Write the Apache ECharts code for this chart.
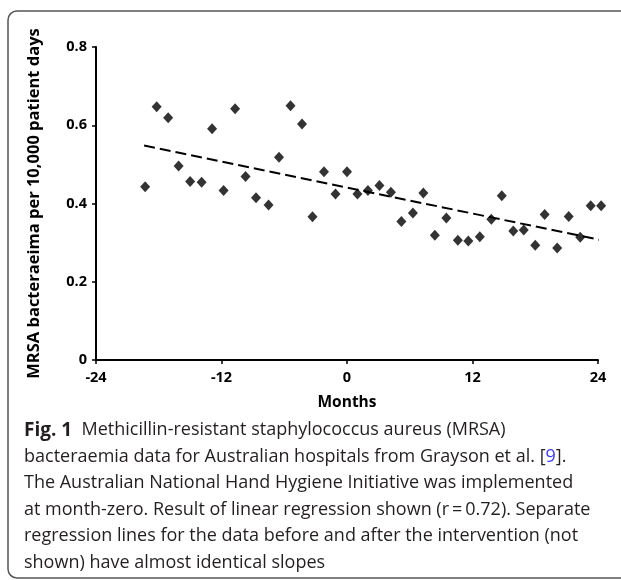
<!DOCTYPE html>
<html>
<head>
<meta charset="utf-8">
<script src="https://cdn.jsdelivr.net/npm/echarts@6/dist/echarts.min.js"></script>
<style>
  html, body { margin: 0; padding: 0; background: #fff; }
  #main { width: 621px; height: 580px; }
</style>
</head>
<body>
<div id="main"></div>
<script>
// months relative to the start of the hand hygiene initiative
var months = [-19.3, -18.2, -17.1, -16.1, -15, -13.9, -12.9, -11.8, -10.7, -9.7,
              -8.7, -7.5, -6.5, -5.4, -4.3, -3.3, -2.2, -1.1, 0, 1,
              2, 3.1, 4.2, 5.2, 6.3, 7.3, 8.4, 9.5, 10.6, 11.6,
              12.7, 13.8, 14.8, 15.9, 16.9, 18, 18.9, 20.1, 21.2, 22.3,
              23.3, 24.3];
// MRSA bacteraemia per 10,000 patient days
var rates = [0.443, 0.647, 0.619, 0.496, 0.456, 0.454, 0.591, 0.433, 0.642, 0.469,
             0.415, 0.396, 0.518, 0.650, 0.603, 0.366, 0.481, 0.424, 0.481, 0.424,
             0.433, 0.446, 0.429, 0.354, 0.376, 0.427, 0.319, 0.363, 0.306, 0.304,
             0.315, 0.360, 0.420, 0.330, 0.332, 0.293, 0.372, 0.286, 0.367, 0.314,
             0.394, 0.394];
// regression line ends
var fitMonths = [-19.4, 24.2];
var fitRates = [0.548, 0.307];

var xTicks = [-24, -12, 0, 12, 24];
var yTicks = [0, 0.2, 0.4, 0.6, 0.8];

var captionLines = [
  '{b|Fig. 1}  Methicillin-resistant staphylococcus aureus (MRSA)',
  'bacteraemia data for Australian hospitals from Grayson et al. [{blue|9}].',
  'The Australian National Hand Hygiene Initiative was implemented',
  'at month-zero. Result of linear regression shown (r\u2009=\u20090.72). Separate',
  'regression lines for the data before and after the intervention (not',
  'shown) have almost identical slopes'
];

var font = '"Open Sans", "Noto Sans", sans-serif';

var chart = echarts.init(document.getElementById('main'));

var option = {
  animation: false,
  backgroundColor: '#fff',
  grid: { left: 96, right: 23, top: 47, bottom: 220 },
  xAxis: {
    type: 'value',
    min: xTicks[0],
    max: xTicks[xTicks.length - 1],
    interval: 12,
    name: 'Months',
    nameLocation: 'middle',
    nameGap: 35,
    nameTextStyle: { fontFamily: font, fontWeight: 'bold', fontSize: 15.5, color: '#000' },
    axisLine: { onZero: false, lineStyle: { color: '#000', width: 2 } },
    axisTick: { length: 4, lineStyle: { color: '#000', width: 1.5 } },
    axisLabel: { fontFamily: font, fontWeight: 'bold', fontSize: 14.5, color: '#000', margin: 10 },
    splitLine: { show: false }
  },
  yAxis: {
    type: 'value',
    min: yTicks[0],
    max: yTicks[yTicks.length - 1],
    interval: 0.2,
    name: 'MRSA bacteraeima per 10,000 patient days',
    nameLocation: 'middle',
    nameGap: 53,
    nameTextStyle: { fontFamily: font, fontWeight: 'bold', fontSize: 16.5, color: '#000' },
    axisLine: { show: true, onZero: false, lineStyle: { color: '#000', width: 2 } },
    axisTick: { show: true, length: 4, lineStyle: { color: '#000', width: 1.5 } },
    axisLabel: { fontFamily: font, fontWeight: 'bold', fontSize: 14.5, color: '#000', margin: 9 },
    splitLine: { show: false }
  },
  series: [
    {
      type: 'line',
      data: fitMonths.map(function (m, i) { return [m, fitRates[i]]; }),
      symbol: 'none',
      lineStyle: { color: '#000', width: 2, type: [11, 5] },
      silent: true,
      z: 1
    },
    {
      type: 'scatter',
      clip: false,
      data: months.map(function (m, i) { return [m, rates[i]]; }),
      symbol: 'diamond',
      symbolSize: [10, 11],
      itemStyle: { color: '#000' },
      z: 2
    }
  ],
  graphic: [
    {
      type: 'rect',
      shape: { x: 8, y: 11, width: 700, height: 567, r: 9 },
      style: { fill: 'none', stroke: '#555', lineWidth: 1.5 },
      silent: true
    },
    {
      type: 'text',
      left: 24,
      top: 417,
      style: {
        text: captionLines.join('\n'),
        fontFamily: font,
        fontSize: 18,
        lineHeight: 26.5,
        fill: '#231f20',
        rich: {
          b: { fontFamily: font, fontWeight: 'bold', fontSize: 19, lineHeight: 26.5, fill: '#231f20' },
          blue: { fontFamily: font, fontSize: 18, lineHeight: 26.5, fill: '#3b3bf0' }
        }
      }
    }
  ]
};

chart.setOption(option);
</script>
</body>
</html>
